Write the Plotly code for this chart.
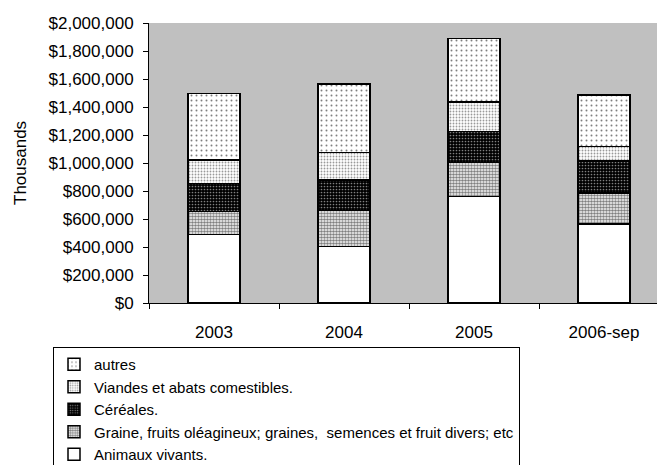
import plotly.graph_objects as go

categories = ["2003", "2004", "2005", "2006-sep"]
animaux = [490000, 405000, 762000, 564000]
graine = [165000, 255000, 241000, 222000]
cereales = [198000, 219000, 221000, 228000]
viandes = [168000, 195000, 210000, 105000]
autres = [475000, 490000, 457000, 367000]

series = [
    ("Animaux vivants.", animaux, dict(fillmode="replace", shape="", bgcolor="white")),
    ("Graine, fruits oléagineux; graines,  semences et fruit divers; etc", graine,
     dict(shape=".", bgcolor="white", fgcolor="black", size=3, solidity=0.6)),
    ("Céréales.", cereales,
     dict(shape=".", bgcolor="black", fgcolor="white", size=3, solidity=0.25)),
    ("Viandes et abats comestibles.", viandes,
     dict(shape=".", bgcolor="white", fgcolor="#333333", size=3, solidity=0.3)),
    ("autres", autres,
     dict(shape=".", bgcolor="white", fgcolor="black", size=5, solidity=0.12)),
]

FONT = "Liberation Sans, Arial, sans-serif"

fig = go.Figure()
for name, vals, pat in series:
    fig.add_trace(go.Bar(
        x=categories, y=vals, name=name, width=0.4,
        marker=dict(color="white", line=dict(color="black", width=1.5), pattern=pat),
    ))

# page body has an 8px margin; figure is offset by (8, 8)
OFF = 8
W, H = 665 - OFF, 465 - OFF
L, T = 149 - OFF, 23 - OFF
plot_w = W - L
fig.update_layout(
    width=W, height=H,
    barmode="stack",
    paper_bgcolor="white",
    plot_bgcolor="#C0C0C0",
    margin=dict(l=L, r=0, t=T, b=H - T - 280, pad=0, autoexpand=False),
    font=dict(family=FONT, size=17, color="black"),
    showlegend=True,
    legend=dict(
        traceorder="reversed",
        xref="container", yref="container",
        x=(53 - OFF) / W, y=1 - (347 - OFF) / H, xanchor="left", yanchor="top",
        bordercolor="black", borderwidth=1, bgcolor="white",
        font=dict(family=FONT, size=15, color="black"),
        itemwidth=30, entrywidth=600, entrywidthmode="pixels",
    ),
    xaxis=dict(
        range=[-0.5, -0.5 + plot_w / 130],
        showline=True, linecolor="black", linewidth=1,
        ticks="outside", tickson="boundaries", ticklen=5, tickcolor="black",
        ticklabelstandoff=14, tickangle=0, automargin=False,
        showgrid=False, zeroline=False,
    ),
    yaxis=dict(
        range=[0, 2000000], dtick=200000,
        tickprefix="$", tickformat=",.0f",
        showline=True, linecolor="black", linewidth=1,
        ticks="outside", ticklen=5, tickcolor="black",
        ticklabelstandoff=6, automargin=False,
        showgrid=False, zeroline=False,
    ),
    annotations=[dict(
        text="Thousands", textangle=-90, showarrow=False,
        xref="paper", yref="paper",
        x=(20 - 149) / plot_w, y=0.5, xanchor="center", yanchor="middle",
        font=dict(family=FONT, size=17, color="black"),
    )],
)

fig.write_html("out.html")
